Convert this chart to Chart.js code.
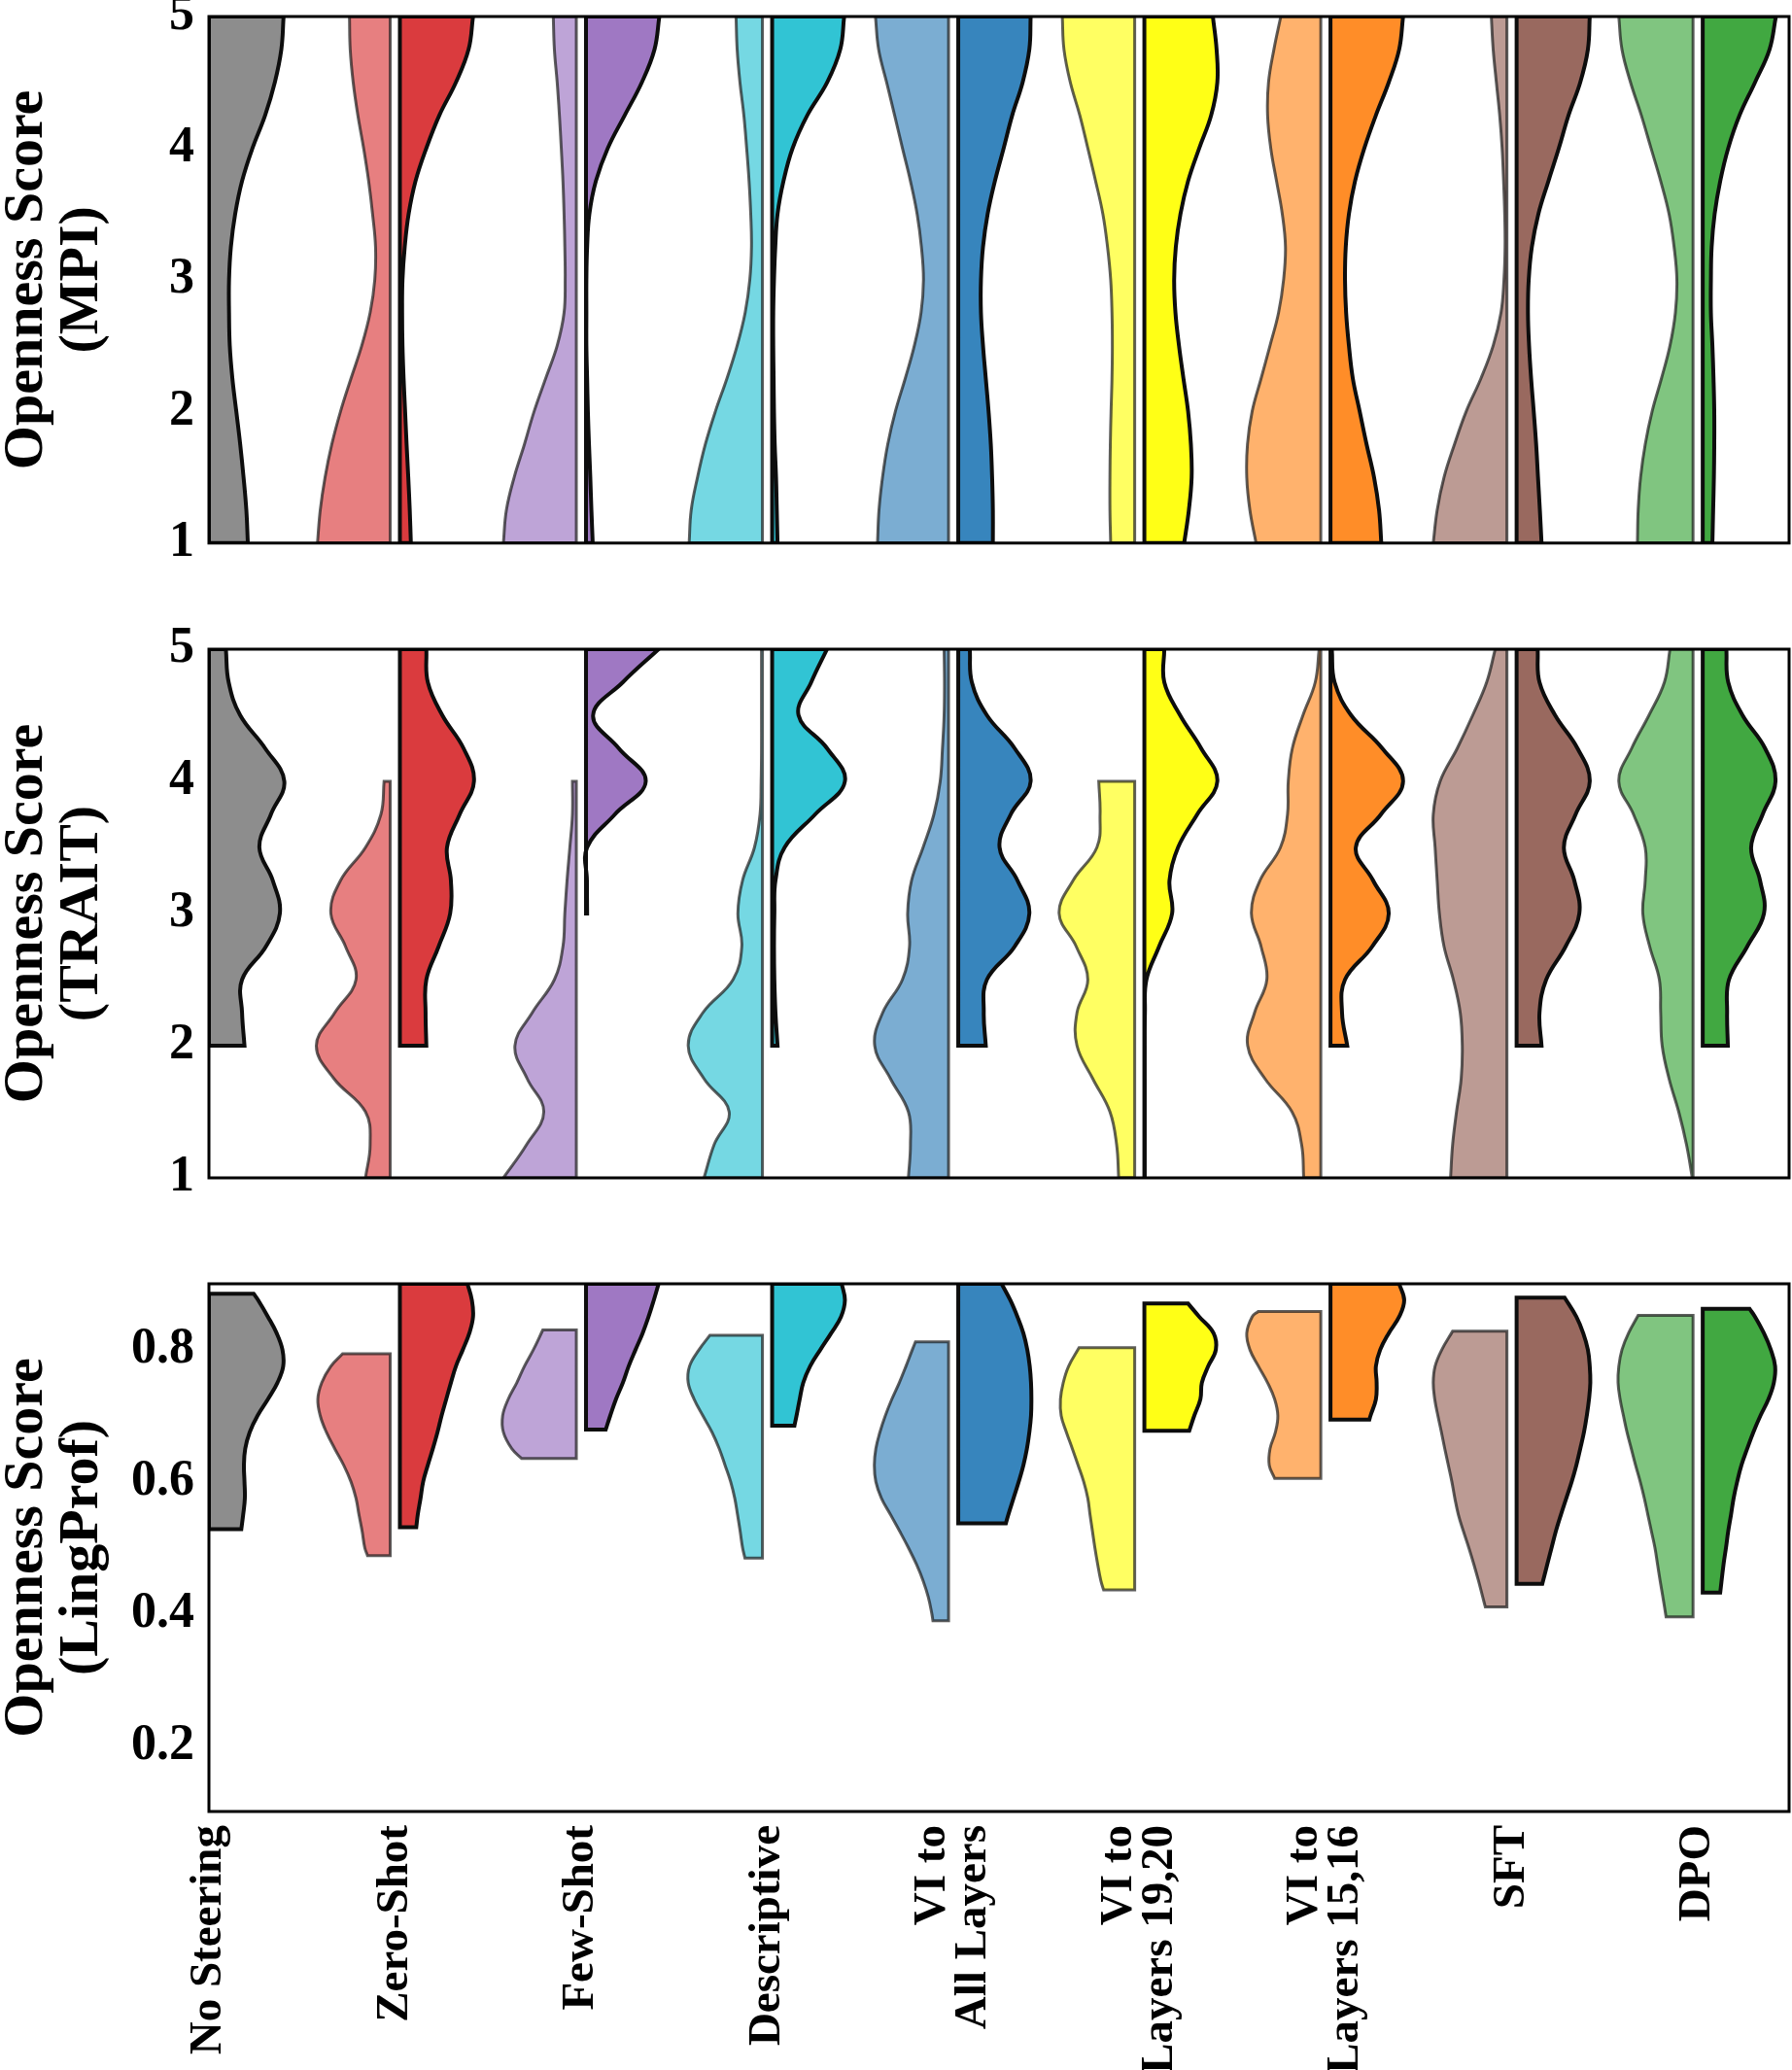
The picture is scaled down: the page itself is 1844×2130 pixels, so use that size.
<!DOCTYPE html>
<html>
<head>
<meta charset="utf-8">
<script src="https://cdn.jsdelivr.net/npm/chart.js@4.4.1/dist/chart.umd.min.js"></script>
<style>
  html, body { margin: 0; padding: 0; background: #fff; }
  #wrap { position: relative; width: 1844px; height: 2130px; overflow: hidden; }
  #wrap > div { position: absolute; left: 0; width: 1844px; }
</style>
</head>
<body>
<div id="wrap">
  <div style="top:-30px;height:635px"><canvas id="chartMPI"></canvas></div>
  <div style="top:620px;height:640px"><canvas id="chartTRAIT"></canvas></div>
  <div style="top:1260px;height:870px"><canvas id="chartLing"></canvas></div>
</div>
<script>
// ---- categories & colours ----
const categories = [
  'No Steering', 'Zero-Shot', 'Few-Shot', 'Descriptive',
  ['VI to', 'All Layers'], ['VI to', 'Layers 19,20'], ['VI to', 'Layers 15,16'],
  'SFT', 'DPO'
];
const baseColor = '#8d8d8d';
const lightColors = ['#e77f80', '#bea4d7', '#75d8e3', '#7badd2', '#ffff62', '#ffb26d', '#bc9b94', '#80c580'];
const darkColors  = ['#da3b3e', '#9f78c3', '#31c4d4', '#3785bd', '#ffff16', '#ff8d28', '#99695f', '#41a841'];

// ---- MPI / TRAIT: half-widths (category units) at each score level, top to bottom ----
const scoreLevels = [5, 4.75, 4.5, 4.25, 4, 3.75, 3.5, 3.25, 3, 2.75, 2.5, 2.25, 2, 1.75, 1.5, 1.25, 1];

const mpiBase = [0.401, 0.389, 0.354, 0.302, 0.234, 0.178, 0.141, 0.118, 0.108, 0.108, 0.112, 0.126, 0.147, 0.168, 0.186, 0.201, 0.209];
const mpiLight = [
  [0.245, 0.241, 0.225, 0.200, 0.169, 0.142, 0.121, 0.105, 0.109, 0.134, 0.179, 0.237, 0.293, 0.340, 0.376, 0.402, 0.417],
  [0.150, 0.144, 0.129, 0.117, 0.107, 0.098, 0.092, 0.088, 0.086, 0.092, 0.129, 0.191, 0.253, 0.305, 0.360, 0.402, 0.418],
  [0.168, 0.162, 0.147, 0.126, 0.111, 0.098, 0.089, 0.085, 0.094, 0.119, 0.162, 0.217, 0.279, 0.333, 0.375, 0.409, 0.420],
  [0.419, 0.402, 0.359, 0.316, 0.274, 0.231, 0.195, 0.172, 0.161, 0.174, 0.210, 0.259, 0.312, 0.353, 0.381, 0.400, 0.408],
  [0.415, 0.406, 0.372, 0.321, 0.278, 0.236, 0.197, 0.172, 0.155, 0.148, 0.146, 0.148, 0.153, 0.157, 0.159, 0.159, 0.155],
  [0.241, 0.278, 0.307, 0.312, 0.295, 0.264, 0.233, 0.216, 0.226, 0.253, 0.299, 0.347, 0.395, 0.420, 0.424, 0.407, 0.374],
  [0.110, 0.100, 0.083, 0.065, 0.052, 0.044, 0.038, 0.036, 0.042, 0.058, 0.100, 0.166, 0.245, 0.308, 0.364, 0.401, 0.422],
  [0.425, 0.408, 0.362, 0.304, 0.252, 0.200, 0.155, 0.128, 0.113, 0.121, 0.150, 0.196, 0.246, 0.283, 0.308, 0.321, 0.325]
];
const mpiDark = [
  [0.419, 0.395, 0.327, 0.238, 0.168, 0.110, 0.073, 0.052, 0.040, 0.038, 0.040, 0.046, 0.054, 0.062, 0.071, 0.079, 0.085],
  [0.420, 0.394, 0.326, 0.234, 0.143, 0.079, 0.044, 0.032, 0.028, 0.028, 0.028, 0.032, 0.036, 0.042, 0.049, 0.055, 0.062],
  [0.413, 0.392, 0.322, 0.215, 0.136, 0.087, 0.055, 0.043, 0.036, 0.032, 0.032, 0.034, 0.036, 0.040, 0.047, 0.051, 0.055],
  [0.415, 0.408, 0.372, 0.316, 0.270, 0.223, 0.184, 0.159, 0.148, 0.148, 0.159, 0.174, 0.189, 0.201, 0.208, 0.212, 0.212],
  [0.394, 0.414, 0.418, 0.385, 0.321, 0.261, 0.220, 0.195, 0.186, 0.193, 0.212, 0.236, 0.261, 0.276, 0.280, 0.265, 0.240],
  [0.416, 0.395, 0.339, 0.270, 0.208, 0.158, 0.125, 0.108, 0.104, 0.110, 0.125, 0.146, 0.183, 0.220, 0.260, 0.287, 0.299],
  [0.419, 0.409, 0.368, 0.305, 0.253, 0.197, 0.143, 0.108, 0.091, 0.087, 0.093, 0.104, 0.118, 0.131, 0.141, 0.151, 0.160],
  [0.419, 0.385, 0.307, 0.224, 0.163, 0.120, 0.090, 0.074, 0.070, 0.070, 0.078, 0.084, 0.088, 0.088, 0.086, 0.082, 0.078]
];

const traitBase = [0.091, 0.106, 0.168, 0.302, 0.405, 0.333, 0.271, 0.343, 0.381, 0.306, 0.178, 0.178, 0.191, null, null, null, null];
const traitLight = [
  [null, null, null, null, 0.059, 0.076, 0.159, 0.293, 0.345, 0.266, 0.210, 0.324, 0.423, 0.328, 0.159, 0.134, 0.159],
  [null, null, null, null, 0.047, 0.047, 0.061, 0.076, 0.088, 0.098, 0.144, 0.263, 0.356, 0.290, 0.201, 0.294, 0.418],
  [0.031, 0.031, 0.031, 0.031, 0.033, 0.039, 0.069, 0.133, 0.158, 0.137, 0.184, 0.346, 0.425, 0.340, 0.205, 0.286, 0.340],
  [0.050, 0.048, 0.050, 0.059, 0.071, 0.105, 0.163, 0.225, 0.246, 0.236, 0.274, 0.380, 0.423, 0.338, 0.242, 0.231, 0.242],
  [null, null, null, null, 0.219, 0.212, 0.229, 0.357, 0.432, 0.340, 0.278, 0.336, 0.336, 0.251, 0.159, 0.123, 0.112],
  [0.035, 0.056, 0.122, 0.179, 0.201, 0.205, 0.243, 0.353, 0.399, 0.347, 0.316, 0.382, 0.419, 0.326, 0.181, 0.129, 0.118],
  [0.089, 0.135, 0.210, 0.293, 0.385, 0.422, 0.412, 0.401, 0.389, 0.364, 0.314, 0.277, 0.266, 0.272, 0.297, 0.318, 0.329],
  [0.150, 0.180, 0.263, 0.356, 0.425, 0.346, 0.283, 0.283, 0.296, 0.259, 0.207, 0.200, 0.192, 0.155, 0.103, 0.061, 0.030]
];
const traitDark = [
  [0.168, 0.176, 0.254, 0.368, 0.424, 0.347, 0.279, 0.300, 0.296, 0.234, 0.168, 0.164, 0.168, null, null, null, null],
  [0.416, 0.224, 0.064, 0.202, 0.347, 0.181, 0.032, 0.031, 0.032, null, null, null, null, null, null, null, null],
  [0.321, 0.236, 0.168, 0.321, 0.417, 0.257, 0.093, 0.044, 0.038, 0.036, 0.038, 0.044, 0.055, null, null, null, null],
  [0.088, 0.099, 0.180, 0.329, 0.415, 0.308, 0.248, 0.344, 0.408, 0.329, 0.180, 0.163, 0.174, null, null, null, null],
  [0.133, 0.133, 0.218, 0.331, 0.418, 0.310, 0.207, 0.161, 0.175, 0.105, 0.037, 0.029, 0.028, 0.028, 0.028, 0.028, 0.028],
  [0.033, 0.048, 0.137, 0.304, 0.416, 0.297, 0.162, 0.255, 0.339, 0.250, 0.104, 0.088, 0.116, null, null, null, null],
  [0.139, 0.149, 0.233, 0.353, 0.419, 0.343, 0.280, 0.336, 0.363, 0.289, 0.185, 0.149, 0.160, null, null, null, null],
  [0.153, 0.163, 0.240, 0.361, 0.417, 0.348, 0.286, 0.334, 0.355, 0.265, 0.167, 0.157, 0.161, null, null, null, null]
];

// ---- LingProf: [score, half-width] pairs, top to bottom ----
const lingBase = [[0.885,0.240],[0.875,0.265],[0.85,0.317],[0.825,0.364],[0.8,0.395],[0.775,0.399],[0.75,0.368],[0.725,0.317],[0.7,0.261],[0.675,0.219],[0.65,0.195],[0.625,0.188],[0.6,0.191],[0.575,0.193],[0.55,0.184],[0.528,0.174]];
const lingLight = [
  [[0.794,0.282],[0.775,0.345],[0.75,0.394],[0.725,0.415],[0.7,0.402],[0.675,0.369],[0.65,0.324],[0.625,0.276],[0.6,0.237],[0.575,0.210],[0.55,0.194],[0.525,0.177],[0.5,0.163],[0.488,0.148]],
  [[0.83,0.206],[0.8,0.257],[0.775,0.305],[0.75,0.346],[0.725,0.392],[0.7,0.422],[0.675,0.418],[0.65,0.373],[0.635,0.319]],
  [[0.822,0.308],[0.8,0.367],[0.775,0.418],[0.75,0.425],[0.725,0.393],[0.7,0.346],[0.675,0.297],[0.65,0.258],[0.625,0.227],[0.6,0.197],[0.575,0.175],[0.55,0.160],[0.525,0.146],[0.5,0.133],[0.484,0.120]],
  [[0.812,0.204],[0.8,0.221],[0.775,0.255],[0.75,0.291],[0.725,0.331],[0.7,0.366],[0.675,0.395],[0.65,0.417],[0.625,0.425],[0.6,0.417],[0.575,0.387],[0.55,0.338],[0.525,0.289],[0.5,0.242],[0.475,0.199],[0.45,0.163],[0.425,0.135],[0.4,0.116],[0.389,0.110]],
  [[0.803,0.325],[0.775,0.381],[0.75,0.410],[0.725,0.425],[0.7,0.421],[0.675,0.393],[0.65,0.361],[0.625,0.330],[0.6,0.300],[0.575,0.278],[0.55,0.266],[0.525,0.253],[0.5,0.240],[0.475,0.225],[0.45,0.208],[0.436,0.193]],
  [[0.858,0.363],[0.85,0.395],[0.825,0.424],[0.8,0.407],[0.775,0.361],[0.75,0.312],[0.725,0.274],[0.7,0.257],[0.675,0.270],[0.65,0.299],[0.625,0.303],[0.605,0.274]],
  [[0.828,0.318],[0.8,0.376],[0.775,0.412],[0.75,0.422],[0.725,0.414],[0.7,0.397],[0.675,0.378],[0.65,0.360],[0.625,0.341],[0.6,0.322],[0.575,0.306],[0.55,0.287],[0.525,0.260],[0.5,0.231],[0.475,0.204],[0.45,0.179],[0.425,0.156],[0.41,0.142]],
  [[0.852,0.321],[0.825,0.373],[0.8,0.408],[0.775,0.425],[0.75,0.429],[0.725,0.418],[0.7,0.400],[0.675,0.381],[0.65,0.358],[0.625,0.335],[0.6,0.310],[0.575,0.288],[0.55,0.269],[0.525,0.250],[0.5,0.231],[0.475,0.217],[0.45,0.203],[0.425,0.188],[0.395,0.171]]
];
const lingDark = [
  [[0.9,0.389],[0.875,0.413],[0.85,0.419],[0.825,0.399],[0.8,0.364],[0.775,0.327],[0.75,0.300],[0.725,0.275],[0.7,0.250],[0.675,0.228],[0.65,0.203],[0.625,0.176],[0.6,0.151],[0.575,0.137],[0.55,0.122],[0.531,0.114]],
  [[0.9,0.416],[0.875,0.390],[0.85,0.362],[0.825,0.330],[0.8,0.292],[0.775,0.255],[0.75,0.224],[0.725,0.187],[0.7,0.156],[0.679,0.132]],
  [[0.9,0.400],[0.875,0.417],[0.85,0.396],[0.825,0.343],[0.8,0.285],[0.775,0.230],[0.75,0.193],[0.725,0.174],[0.7,0.157],[0.685,0.146]],
  [[0.9,0.259],[0.875,0.306],[0.85,0.344],[0.825,0.376],[0.8,0.397],[0.775,0.410],[0.75,0.417],[0.725,0.419],[0.7,0.417],[0.675,0.408],[0.65,0.395],[0.625,0.376],[0.6,0.351],[0.575,0.323],[0.55,0.295],[0.537,0.282]],
  [[0.87,0.261],[0.85,0.321],[0.825,0.398],[0.8,0.410],[0.775,0.369],[0.75,0.335],[0.725,0.327],[0.7,0.294],[0.677,0.267]],
  [[0.9,0.395],[0.875,0.422],[0.85,0.395],[0.825,0.339],[0.8,0.293],[0.775,0.270],[0.75,0.274],[0.725,0.270],[0.7,0.241],[0.694,0.235]],
  [[0.879,0.284],[0.85,0.347],[0.825,0.384],[0.8,0.409],[0.775,0.419],[0.75,0.422],[0.725,0.415],[0.7,0.403],[0.675,0.388],[0.65,0.368],[0.625,0.347],[0.6,0.322],[0.575,0.293],[0.55,0.264],[0.525,0.237],[0.5,0.214],[0.475,0.191],[0.445,0.164]],
  [[0.862,0.278],[0.85,0.307],[0.825,0.355],[0.8,0.392],[0.775,0.415],[0.75,0.408],[0.725,0.379],[0.7,0.336],[0.675,0.298],[0.65,0.265],[0.625,0.234],[0.6,0.211],[0.575,0.192],[0.55,0.178],[0.525,0.163],[0.5,0.151],[0.475,0.138],[0.432,0.120]]
];

const scoreTicks = [1, 2, 3, 4, 5];
const lingTicks = [0.2, 0.4, 0.6, 0.8];

// ---- helpers ----
const GAP = 0.026; // white split between the two halves
const fontFamily = "'Liberation Serif', 'Times New Roman', serif";
Chart.defaults.font.family = fontFamily;
Chart.defaults.color = '#000';

function zipLevels(row) {
  const out = [];
  row.forEach((w, i) => { if (w !== null) out.push([scoreLevels[i], w]); });
  return out;
}

// closed outline of one half violin; corners doubled so tension keeps edges straight
function halfViolin(pos, side, gap, profile) {
  const pts = profile.slice().sort((a, b) => a[0] - b[0]);
  const inner = pos + side * gap;
  const lo = pts[0][0], hi = pts[pts.length - 1][0];
  const mid = { x: inner, y: (lo + hi) / 2 };
  const outer = pts.map(([y, w]) => ({ x: pos + side * w, y }));
  const first = outer[0], last = outer[outer.length - 1];
  return [mid, { x: inner, y: lo }, { x: inner, y: lo }, first, ...outer, last,
          { x: inner, y: hi }, { x: inner, y: hi }, mid];
}

function violinDataset(data, fillColor, dark) {
  return {
    type: 'line',
    data,
    fill: 'shape',
    backgroundColor: fillColor,
    borderColor: dark ? '#0d0d0d' : 'rgba(25,25,25,0.7)',
    borderWidth: dark ? 4 : 3,
    tension: 0.4,
    pointRadius: 0,
    pointHitRadius: 0
  };
}

function buildDatasets(base, light, dark) {
  const sets = [violinDataset(halfViolin(0, 1, 0, base), baseColor, true)];
  for (let i = 0; i < light.length; i++) {
    sets.push(violinDataset(halfViolin(i + 1, -1, GAP, light[i]), lightColors[i], false));
    sets.push(violinDataset(halfViolin(i + 1, 1, GAP, dark[i]), darkColors[i], true));
  }
  return sets;
}

const framePlugin = {
  id: 'frame',
  afterDatasetsDraw(chart) {
    const { ctx, chartArea: a } = chart;
    ctx.save();
    ctx.strokeStyle = '#000';
    ctx.lineWidth = 3;
    ctx.strokeRect(a.left, a.top, a.right - a.left, a.bottom - a.top);
    ctx.restore();
  }
};

// centre two-line rotated category labels on their tick
const centerLabels = {
  id: 'centerLabels',
  beforeDraw(chart) {
    const scale = chart.scales.x;
    if (!scale.options.display) return;
    scale.getLabelItems().forEach(item => {
      if (Array.isArray(item.label) && item.label.length > 1) item.textOffset = 0;
    });
  }
};

function makePanel(id, datasets, cfg) {
  new Chart(document.getElementById(id), {
    type: 'line',
    data: { datasets },
    plugins: [framePlugin, centerLabels],
    options: {
      responsive: true,
      maintainAspectRatio: false,
      animation: false,
      events: [],
      layout: { padding: cfg.padding },
      plugins: { legend: { display: false }, tooltip: { enabled: false } },
      scales: {
        x: {
          type: 'linear',
          min: 0,
          max: 8.49,
          display: cfg.showX,
          grid: { display: false, drawTicks: false },
          border: { display: false },
          afterBuildTicks: s => { s.ticks = categories.map((c, i) => ({ value: i })); },
          afterFit: s => { s.height = cfg.showX ? 266 : 0; },
          ticks: {
            autoSkip: false,
            minRotation: 90,
            maxRotation: 90,
            padding: 14,
            color: '#000',
            font: { size: 47, weight: 'bold', lineHeight: 0.9 },
            callback: v => categories[Math.round(v)]
          }
        },
        y: {
          type: 'linear',
          min: cfg.min,
          max: cfg.max,
          grid: { display: false, drawTicks: false },
          border: { display: false },
          afterBuildTicks: s => { s.ticks = cfg.ticks.map(v => ({ value: v })); },
          afterFit: s => { s.width = 215; },
          ticks: {
            padding: 15,
            color: '#000',
            font: { size: 52, weight: 'bold' },
            callback: cfg.fmt
          },
          title: {
            display: true,
            text: cfg.title,
            color: '#000',
            padding: 0,
            font: { size: 58, weight: 'bold', lineHeight: 0.98 }
          }
        }
      }
    }
  });
}

// 1. MPI
makePanel('chartMPI',
  buildDatasets(zipLevels(mpiBase), mpiLight.map(zipLevels), mpiDark.map(zipLevels)),
  { min: 1, max: 5, ticks: scoreTicks, fmt: v => String(v), title: ['Openness Score', '(MPI)'],
    showX: false, padding: { top: 47, bottom: 46, left: 0, right: 3 } });

// 2. TRAIT
makePanel('chartTRAIT',
  buildDatasets(zipLevels(traitBase), traitLight.map(zipLevels), traitDark.map(zipLevels)),
  { min: 1, max: 5, ticks: scoreTicks, fmt: v => String(v), title: ['Openness Score', '(TRAIT)'],
    showX: false, padding: { top: 48, bottom: 48, left: 0, right: 3 } });

// 3. LingProf
makePanel('chartLing',
  buildDatasets(lingBase, lingLight, lingDark),
  { min: 0.1, max: 0.9, ticks: lingTicks, fmt: v => v.toFixed(1), title: ['Openness Score', '(LingProf)'],
    showX: true, padding: { top: 61, bottom: 0, left: 0, right: 3 } });
</script>
</body>
</html>
